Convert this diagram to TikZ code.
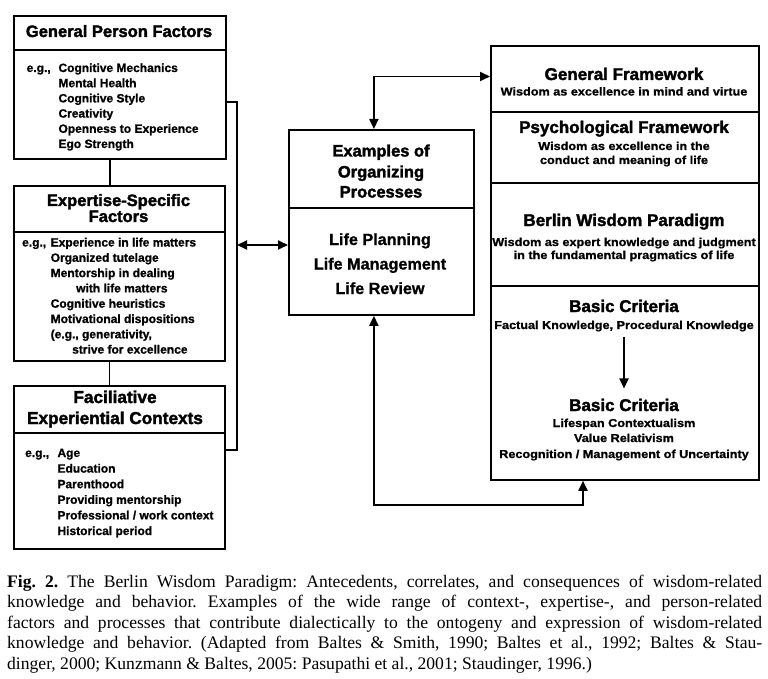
\documentclass[tikz,border=0pt]{standalone}
\usepackage{graphicx}
\usepackage{fontspec}
\setmainfont{Liberation Serif}
\newfontfamily\lsans{Liberation Sans}[BoldFeatures={FakeBold=1.0}]
\newfontfamily\lheavy{Liberation Sans}[BoldFeatures={FakeBold=2.0}]
\usetikzlibrary{arrows.meta,calc}
\frenchspacing
\tikzset{
  part/.style={draw, line width=1.8pt, rectangle, inner sep=0pt, anchor=north west},
  plain/.style={line width=1.8pt},
  arr/.style={line width=1.8pt, -{Triangle[length=10pt,width=9pt]}},
  dbl/.style={line width=1.8pt, {Triangle[length=10pt,width=9pt]}-{Triangle[length=10pt,width=9pt]}},
  ttl/.style={anchor=base, inner sep=0pt, font=\lheavy\bfseries\fontsize{16.5}{20}\selectfont},
  rttl/.style={anchor=base, inner sep=0pt, font=\lheavy\bfseries\fontsize{17}{20}\selectfont},
  lst/.style={anchor=base west, inner sep=0pt, font=\lsans\bfseries\fontsize{12}{#1}\selectfont},
  eg/.style={anchor=base west, inner sep=0pt, font=\lsans\bfseries\fontsize{12}{15}\selectfont},
  mid/.style={anchor=base, inner sep=0pt, font=\lsans\bfseries\fontsize{16.2}{20}\selectfont},
  sm/.style={anchor=base, inner sep=0pt, font=\lsans\bfseries\fontsize{11.5}{13}\selectfont},
}
\newcommand{\wide}[1]{\scalebox{1.1}[1]{#1}}
\begin{document}
\begin{tikzpicture}[x=1pt,y=-1pt]
\useasboundingbox (0,0) rectangle (768,679);
% ---------- left boxes ----------
\node[part, minimum width=212pt, minimum height=34pt] (gpT) at (13,15) {};
\node[part, minimum width=212pt, minimum height=109pt] (gpB) at (13,49) {};
\node[part, minimum width=211pt, minimum height=46pt] (esT) at (13,185) {};
\node[part, minimum width=211pt, minimum height=129pt] (esB) at (13,231) {};
\node[part, minimum width=211pt, minimum height=47pt] (fcT) at (13,385) {};
\node[part, minimum width=211pt, minimum height=116pt] (fcB) at (13,432) {};
% titles
\node[ttl] (gpTt) at (119,37) {General Person Factors};
\node[ttl] (esTt1) at (118.5,206) {Expertise-Specific};
\node[ttl] (esTt2) at (118.5,222) {Factors};
\node[ttl, font=\lheavy\bfseries\fontsize{17.2}{20}\selectfont] (fcTt1) at (115,403) {Faciliative};
\node[ttl, font=\lheavy\bfseries\fontsize{17.2}{20}\selectfont] (fcTt2) at (115,424) {Experiential Contexts};
% lists
\node[eg] (gpE) at (26.5,72) {e.g.,};
\node[lst=15.2] (gpL) at (58.3,72) {\begin{tabular}[t]{@{}l@{}}Cognitive Mechanics\\Mental Health\\Cognitive Style\\Creativity\\Openness to Experience\\Ego Strength\end{tabular}};
\node[eg] (esE) at (22,246.5) {e.g.,};
\node[lst=15.3] (esL) at (50.5,246.5) {\begin{tabular}[t]{@{}l@{}}Experience in life matters\\Organized tutelage\\Mentorship in dealing\\\hspace*{25.5pt}with life matters\\Cognitive heuristics\\Motivational dispositions\\(e.g., generativity,\\\hspace*{21.5pt}strive for excellence\end{tabular}};
\node[eg] (fcE) at (25,457) {e.g.,};
\node[lst=15.6] (fcL) at (57.3,457) {\begin{tabular}[t]{@{}l@{}}Age\\Education\\Parenthood\\Providing mentorship\\Professional / work context\\Historical period\end{tabular}};
% ---------- middle box ----------
\node[part, minimum width=185pt, minimum height=78pt] (mT) at (288,129) {};
\node[part, minimum width=185pt, minimum height=107pt] (mB) at (288,207) {};
\node[ttl] (mTt1) at (381,156.5) {Examples of};
\node[ttl] (mTt2) at (381,177.5) {Organizing};
\node[ttl] (mTt3) at (381,197.5) {Processes};
\node[mid] (mL1) at (380,245) {Life Planning};
\node[mid] (mL2) at (380,269.5) {Life Management};
\node[mid] (mL3) at (380,294) {Life Review};
% ---------- right box ----------
\node[part, minimum width=268pt, minimum height=66pt] (rA) at (490,45) {};
\node[part, minimum width=268pt, minimum height=71pt] (rB) at (490,111) {};
\node[part, minimum width=268pt, minimum height=103pt] (rC) at (490,182) {};
\node[part, minimum width=268pt, minimum height=194pt] (rD) at (490,285) {};
\node[rttl] (gfT) at (624,80) {General Framework};
\node[sm] (gfS) at (624,95.5) {\wide{Wisdom as excellence in mind and virtue}};
\node[rttl] (pfT) at (624,133) {Psychological Framework};
\node[sm] (pfS1) at (624,150) {\wide{Wisdom as excellence in the}};
\node[sm] (pfS2) at (624,164) {\wide{conduct and meaning of life}};
\node[rttl] (bwT) at (624,226) {Berlin Wisdom Paradigm};
\node[sm] (bwS1) at (624,246) {\wide{Wisdom as expert knowledge and judgment}};
\node[sm] (bwS2) at (624,259) {\wide{in the fundamental pragmatics of life}};
\node[rttl] (bc1T) at (624,312) {Basic Criteria};
\node[sm] (bc1S) at (624,329) {\wide{Factual Knowledge, Procedural Knowledge}};
\node[rttl] (bc2T) at (624,411) {Basic Criteria};
\node[sm] (bc2S1) at (624,427) {\wide{Lifespan Contextualism}};
\node[sm] (bc2S2) at (624,442) {\wide{Value Relativism}};
\node[sm] (bc2S3) at (624,458) {\wide{Recognition / Management of Uncertainty}};
% ---------- connectors ----------
\draw[plain] ([xshift=-10pt]gpB.south) -- ([xshift=-10pt]gpB.south |- esT.north);
\draw[plain] ([xshift=-10pt]esB.south) -- ([xshift=-10pt]esB.south |- fcT.north);
\coordinate (brTop) at (237,102);
\coordinate (brBot) at (237,450);
\coordinate (brMid) at (237,245);
\draw[plain] (gpB.east |- brTop) -- (brTop) -- (brBot) -- (fcB.east |- brBot);
\draw[dbl] (brMid) -- (brMid -| mB.west);
\coordinate (topR) at (490,76.5);
\draw[dbl] ([xshift=-7.5pt]mT.north) |- (topR);
\coordinate (botR) at (583,505);
\draw[dbl] ([xshift=-7.5pt]mB.south) |- (botR) -- (botR |- rD.south);
\draw[arr] ([yshift=-5pt]bc1S.south) -- ([yshift=10pt]bc2T.north);
% ---------- caption ----------
\node[anchor=base west, inner sep=0pt, font=\fontsize{17.6}{20.5}\selectfont] (cap) at (7,587) {\begin{tabular}[t]{@{}l@{}}%
\makebox[755pt][s]{\textbf{Fig. 2.} The Berlin Wisdom Paradigm: Antecedents, correlates, and consequences of wisdom-related}\\
\makebox[755pt][s]{knowledge and behavior. Examples of the wide range of context-, expertise-, and person-related}\\
\makebox[755pt][s]{factors and processes that contribute dialectically to the ontogeny and expression of wisdom-related}\\
\makebox[755pt][s]{knowledge and behavior. (Adapted from Baltes \& Smith, 1990; Baltes et al., 1992; Baltes \& Stau-}\\
dinger, 2000; Kunzmann \& Baltes, 2005: Pasupathi et al., 2001; Staudinger, 1996.)\end{tabular}};
\end{tikzpicture}
\end{document}
